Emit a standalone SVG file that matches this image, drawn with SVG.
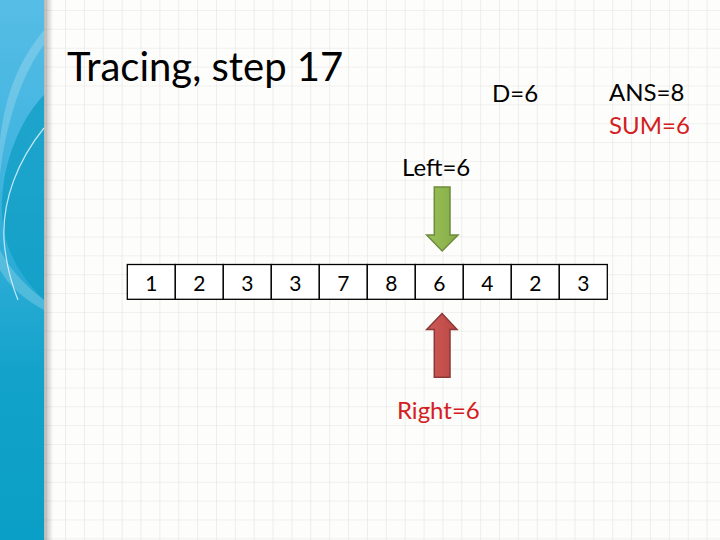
<svg xmlns="http://www.w3.org/2000/svg" width="720" height="540" viewBox="0 0 720 540">
  <defs>
    <pattern id="grid" x="8.4" y="10" width="18.87" height="18.87" patternUnits="userSpaceOnUse">
      <path d="M0,0 V18.87 M0,0 H18.87" fill="none" stroke="#e3e3e3" stroke-width="1.2"/>
    </pattern>
    <linearGradient id="strip" x1="0" y1="0" x2="0" y2="1">
      <stop offset="0" stop-color="#56bde6"/>
      <stop offset="0.35" stop-color="#3db3de"/>
      <stop offset="0.7" stop-color="#12a2ca"/>
      <stop offset="1" stop-color="#0a9fc6"/>
    </linearGradient>
    <linearGradient id="shadow" x1="0" y1="0" x2="1" y2="0">
      <stop offset="0" stop-color="#000" stop-opacity="0.28"/>
      <stop offset="1" stop-color="#000" stop-opacity="0"/>
    </linearGradient>
    <linearGradient id="gfill" x1="0" y1="0" x2="1" y2="0">
      <stop offset="0" stop-color="#9cc05c"/>
      <stop offset="1" stop-color="#84ad43"/>
    </linearGradient>
    <linearGradient id="rfill" x1="0" y1="0" x2="1" y2="0">
      <stop offset="0" stop-color="#cf5a57"/>
      <stop offset="1" stop-color="#bb4744"/>
    </linearGradient>
  </defs>
  <style>
    text { font-family: Lato, "Open Sans", "Liberation Sans", sans-serif; }
    .lbl { font-size: 24px; fill: #000; }
    .red { fill: #d3201f; }
    .num { font-size: 21px; text-anchor: middle; fill: #000; }
    .cell { fill: #fff; stroke: #000; stroke-width: 1.3; }
  </style>

  <!-- background -->
  <rect width="720" height="540" fill="#fdfdfb"/>
  <rect width="720" height="540" fill="url(#grid)"/>

  <!-- left strip -->
  <g id="strip-deco">
    <rect x="44" y="0" width="9" height="540" fill="url(#shadow)"/>
    <rect x="0" y="0" width="44" height="540" fill="url(#strip)"/>
    <path d="M44,95 C20,120 4,160 2,200 C0,240 14,270 44,300 Z" fill="#0f9ec4" opacity="0.75"/>
    <path d="M44,30 C20,60 6,90 0,140 L0,175 C6,120 24,70 44,45 Z" fill="#ffffff" opacity="0.2"/>
    <path d="M44,128 C18,160 2,200 4,240 C6,265 12,285 18,300" fill="none" stroke="#e8f8ff" stroke-width="1.2" opacity="0.8"/>
    <path d="M0,250 C10,270 25,285 44,300 L44,310 C25,300 8,285 0,270 Z" fill="#ffffff" opacity="0.2"/>
  </g>

  <!-- title and labels -->
  <g id="title"><text x="67" y="81" font-size="40" fill="#000">Tracing, step 17</text></g>
  <g id="d-label"><text class="lbl" x="492" y="102">D=6</text></g>
  <g id="ans-label"><text class="lbl" x="609" y="101">ANS=8</text></g>
  <g id="sum-label"><text class="lbl red" x="609" y="134">SUM=6</text></g>
  <g id="left-label"><text class="lbl" x="402" y="176">Left=6</text></g>
  <g id="right-label"><text class="lbl red" x="397" y="419">Right=6</text></g>

  <!-- array -->
  <g id="array">
    <rect class="cell" x="127.3" y="264.5" width="48" height="34.8"/>
    <rect class="cell" x="175.3" y="264.5" width="48" height="34.8"/>
    <rect class="cell" x="223.3" y="264.5" width="48" height="34.8"/>
    <rect class="cell" x="271.3" y="264.5" width="48" height="34.8"/>
    <rect class="cell" x="319.3" y="264.5" width="48" height="34.8"/>
    <rect class="cell" x="367.3" y="264.5" width="48" height="34.8"/>
    <rect class="cell" x="415.3" y="264.5" width="48" height="34.8"/>
    <rect class="cell" x="463.3" y="264.5" width="48" height="34.8"/>
    <rect class="cell" x="511.3" y="264.5" width="48" height="34.8"/>
    <rect class="cell" x="559.3" y="264.5" width="48" height="34.8"/>
    <text class="num" x="151.3" y="291">1</text>
    <text class="num" x="199.3" y="291">2</text>
    <text class="num" x="247.3" y="291">3</text>
    <text class="num" x="295.3" y="291">3</text>
    <text class="num" x="343.3" y="291">7</text>
    <text class="num" x="391.3" y="291">8</text>
    <text class="num" x="439.3" y="291">6</text>
    <text class="num" x="487.3" y="291">4</text>
    <text class="num" x="535.3" y="291">2</text>
    <text class="num" x="583.3" y="291">3</text>
  </g>

  <!-- pointers -->
  <g id="left-arrow">
    <path d="M434.3,187 H450 V235 H458 L442.2,251 L426.7,235 H434.3 Z" fill="url(#gfill)" stroke="#6e8b3b" stroke-width="1.5" stroke-linejoin="miter"/>
  </g>
  <g id="right-arrow">
    <path d="M442,313.5 L457,329.5 H450 V377.3 H434.3 V329.5 H426.7 Z" fill="url(#rfill)" stroke="#8c3836" stroke-width="1.5" stroke-linejoin="miter"/>
  </g>
</svg>
